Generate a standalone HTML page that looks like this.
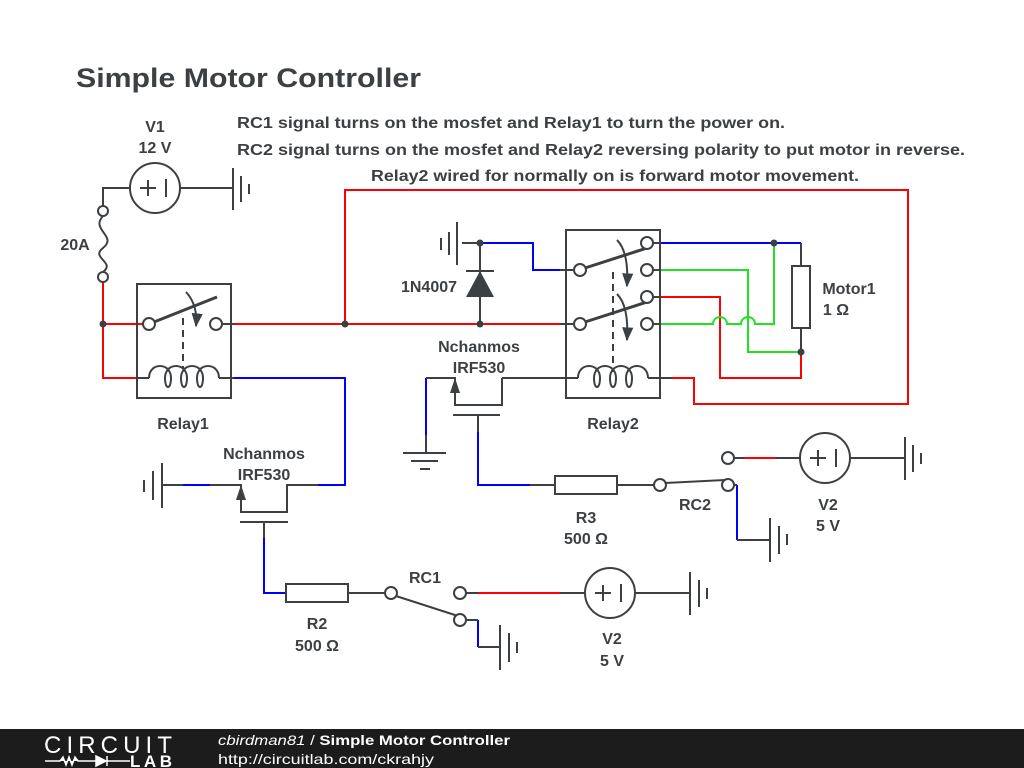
<!DOCTYPE html>
<html><head><meta charset="utf-8"><style>
html,body{margin:0;padding:0;background:#fff;width:1024px;height:768px;overflow:hidden}
svg{display:block}
text{font-family:"Liberation Sans",sans-serif;font-weight:bold;fill:#3c4043}
</style></head><body>
<svg width="1024" height="768" viewBox="0 0 1024 768" xmlns="http://www.w3.org/2000/svg">
<defs>
<marker id="ah" viewBox="0 0 10 10" refX="9" refY="5" markerWidth="7" markerHeight="7" orient="auto"><path d="M0,1 L10,5 L0,9 z" fill="#3c4043"/></marker>
</defs>
<text x="76" y="87" font-size="27" textLength="345" lengthAdjust="spacingAndGlyphs">Simple Motor Controller</text>
<text x="237" y="128" font-size="16" textLength="548" lengthAdjust="spacingAndGlyphs">RC1 signal turns on the mosfet and Relay1 to turn the power on.</text>
<text x="237" y="155" font-size="16" textLength="728" lengthAdjust="spacingAndGlyphs">RC2 signal turns on the mosfet and Relay2 reversing polarity to put motor in reverse.</text>
<text x="371" y="181" font-size="16" textLength="488" lengthAdjust="spacingAndGlyphs">Relay2 wired for normally on is forward motor movement.</text>

<g fill="none" stroke-width="2" stroke-linecap="butt">
<g stroke="#ff0000">
<path d="M103,282 V378 H137"/>
<path d="M103,324 H143"/>
<path d="M234,324 H566"/>
<path d="M345,324 V190 H908 V404 H694 V378 H672"/>
<path d="M660,297 H720 V378 H801 V352"/>
<path d="M478,593 H560"/>
<path d="M745,458 H775"/>
</g>
<g stroke="#0000ff">
<path d="M234,378 H345 V485 H318"/>
<path d="M183,485 H210"/>
<path d="M264,538 V593 H286"/>
<path d="M478,620 V647"/>
<path d="M480,243 H533 V270 H560"/>
<path d="M660,243 H801"/>
<path d="M426,378 V435"/>
<path d="M478,432 V485 H530"/>
<path d="M737,485 V540"/>
</g>
<g stroke="#22e022">
<path d="M660,270 H748 V352 H801"/>
<path d="M660,324 H713 A7,7 0 0 1 727,324 H741 A7,7 0 0 1 755,324 H774 V243"/>
</g>
<g stroke="#3c4043">
<path d="M103,206 V188 H130 M180,188 H233"/>
<path d="M233,168 V210 M241,176 V202 M249,184 V194"/>
<path d="M103,216 C90,230 118,236 103,248 C90,258 116,262 103,272"/>
<path d="M103,277 V282"/>
<rect x="137" y="284" width="94" height="114"/>
<path d="M222,324 H234"/>
<path d="M137,378 H149 M219,378 H234"/>
<path d="M154,322 L217,297" stroke-width="3"/>
<path d="M183,318 V368" stroke-dasharray="7,5"/>
<path d="M186,292 Q198,305 196,326" marker-end="url(#ah)"/>
<path d="M149,378 C149,362 171,362 171,378 C171,390 165,390 165,378 C165,362 187,362 187,378 C187,390 181,390 181,378 C181,362 203,362 203,378 C203,390 197,390 197,378 C197,362 219,362 219,378"/>
<path d="M162,485 H183 M210,485 H241 V512 H287 V485 H318"/>
<path d="M162,463 V508 M153,471 V500 M144,480 V492"/>
<path d="M240,522 H288 M264,522 V538"/>
<rect x="286" y="584" width="62" height="18"/>
<path d="M348,593 H385 M396,596 L458,616" />
<path d="M466,593 H478 M466,620 H478 M478,647 H500"/>
<path d="M560,593 H585 M635,593 H690"/>
<path d="M690,572 V615 M699,580 V607 M707,588 V599"/>
<path d="M500,625 V670 M509,633 V662 M517,642 V653"/>
<path d="M462,243 H480 V324"/>
<path d="M457,222 V265 M449,232 V255 M441,238 V250"/>
<path d="M466,271 H494"/>
<rect x="566" y="230" width="94" height="168"/>
<path d="M560,270 H574 M560,324 H574"/>
<path d="M653,243 H660 M653,270 H660 M653,297 H660 M653,324 H660"/>
<path d="M585,268 L647,248 M585,322 L647,302" stroke-width="3"/>
<path d="M613,272 V372" stroke-dasharray="7,5"/>
<path d="M617,240 Q629,252 627,286" marker-end="url(#ah)"/>
<path d="M617,294 Q629,306 627,340" marker-end="url(#ah)"/>
<path d="M502,378 H578 M648,378 H672"/>
<path d="M578,378 C578,362 600,362 600,378 C600,390 594,390 594,378 C594,362 616,362 616,378 C616,390 610,390 610,378 C610,362 632,362 632,378 C632,390 626,390 626,378 C626,362 648,362 648,378"/>
<path d="M801,243 V266 M801,328 V352"/>
<rect x="792" y="266" width="18" height="62"/>
<path d="M426,378 H455 V405 H502 V378"/>
<path d="M426,435 V453 M403,453 H446 M411,461 H438 M420,469 H430"/>
<path d="M453,415 H500 M478,415 V432"/>
<path d="M530,485 H555"/>
<rect x="555" y="476" width="62" height="18"/>
<path d="M617,485 H654 M665,483 L725,480"/>
<path d="M734,458 H745 M775,458 H800 M850,458 H905"/>
<path d="M905,437 V480 M913,445 V472 M921,453 V464"/>
<path d="M734,485 H737 M737,540 H770"/>
<path d="M770,518 V562 M779,526 V554 M787,534 V545"/>
</g>
<g stroke="#3c4043" fill="#fff" stroke-width="2">
<circle cx="155" cy="188" r="25"/>
<circle cx="103" cy="211" r="5"/>
<circle cx="103" cy="277" r="5"/>
<circle cx="149" cy="324" r="6"/>
<circle cx="216" cy="324" r="6"/>
<circle cx="580" cy="270" r="6"/><circle cx="647" cy="243" r="6"/><circle cx="647" cy="270" r="6"/>
<circle cx="580" cy="324" r="6"/><circle cx="647" cy="297" r="6"/><circle cx="647" cy="324" r="6"/>
<circle cx="391" cy="593" r="6"/><circle cx="460" cy="593" r="6"/><circle cx="460" cy="620" r="6"/>
<circle cx="610" cy="593" r="25"/>
<circle cx="660" cy="485" r="6"/><circle cx="728" cy="458" r="6"/><circle cx="728" cy="485" r="6"/>
<circle cx="825" cy="458" r="25"/>
</g>
<g stroke="#3c4043" stroke-width="2" fill="none">
<path d="M140,188 H156 M148,180 V196 M166,179 V197"/>
<path d="M595,593 H611 M603,585 V601 M621,584 V602"/>
<path d="M810,458 H826 M818,450 V466 M836,449 V467"/>
</g>
</g>
<g fill="#3c4043">
<circle cx="103" cy="324" r="3.5"/><circle cx="345" cy="324" r="3.5"/>
<circle cx="480" cy="243" r="3.5"/><circle cx="480" cy="324" r="3.5"/>
<circle cx="774" cy="243" r="3.5"/><circle cx="801" cy="352" r="3.5"/>
<path d="M466,297 L494,297 L480,271 z"/>
<path d="M241,485 L236,500 L246,500 z"/>
<path d="M455,378 L450,393 L460,393 z"/>
</g>
<g font-size="16" text-anchor="middle">
<text x="155" y="132">V1</text>
<text x="155" y="153">12 V</text>
<text x="75" y="250">20A</text>
<text x="183" y="429">Relay1</text>
<text x="264" y="459">Nchanmos</text>
<text x="264" y="480">IRF530</text>
<text x="317" y="629">R2</text>
<text x="317" y="651">500 Ω</text>
<text x="425" y="583">RC1</text>
<text x="612" y="644">V2</text>
<text x="612" y="666">5 V</text>
<text x="429" y="292">1N4007</text>
<text x="479" y="352">Nchanmos</text>
<text x="479" y="373">IRF530</text>
<text x="613" y="429">Relay2</text>
<text x="849" y="294">Motor1</text>
<text x="836" y="315">1 Ω</text>
<text x="586" y="523">R3</text>
<text x="586" y="544">500 Ω</text>
<text x="695" y="510">RC2</text>
<text x="828" y="510">V2</text>
<text x="828" y="531">5 V</text>
</g>

<rect x="0" y="729" width="1024" height="39" fill="#1c1c1c"/>
<text x="44" y="753" font-size="24" style="font-weight:normal;fill:#fff" textLength="128">CIRCUIT</text>
<path d="M45,761 H60 L63,757 L66,765 L69,757 L72,765 L75,757 L78,761 H96 M96,756 V766 L106,761 z M107,756 V766 M107,761 H130" stroke="#fff" stroke-width="1.5" fill="#fff"/>
<text x="130" y="767" font-size="17" style="fill:#fff" textLength="42">LAB</text>
<text x="218" y="745" font-size="14" style="fill:#fff;font-weight:normal" textLength="292" lengthAdjust="spacingAndGlyphs"><tspan font-style="italic">cbirdman81</tspan> / <tspan font-weight="bold">Simple Motor Controller</tspan></text>
<text x="218" y="764" font-size="14" style="fill:#fff;font-weight:normal" textLength="216" lengthAdjust="spacingAndGlyphs">http://circuitlab.com/ckrahjy</text>
</svg>
</body></html>
